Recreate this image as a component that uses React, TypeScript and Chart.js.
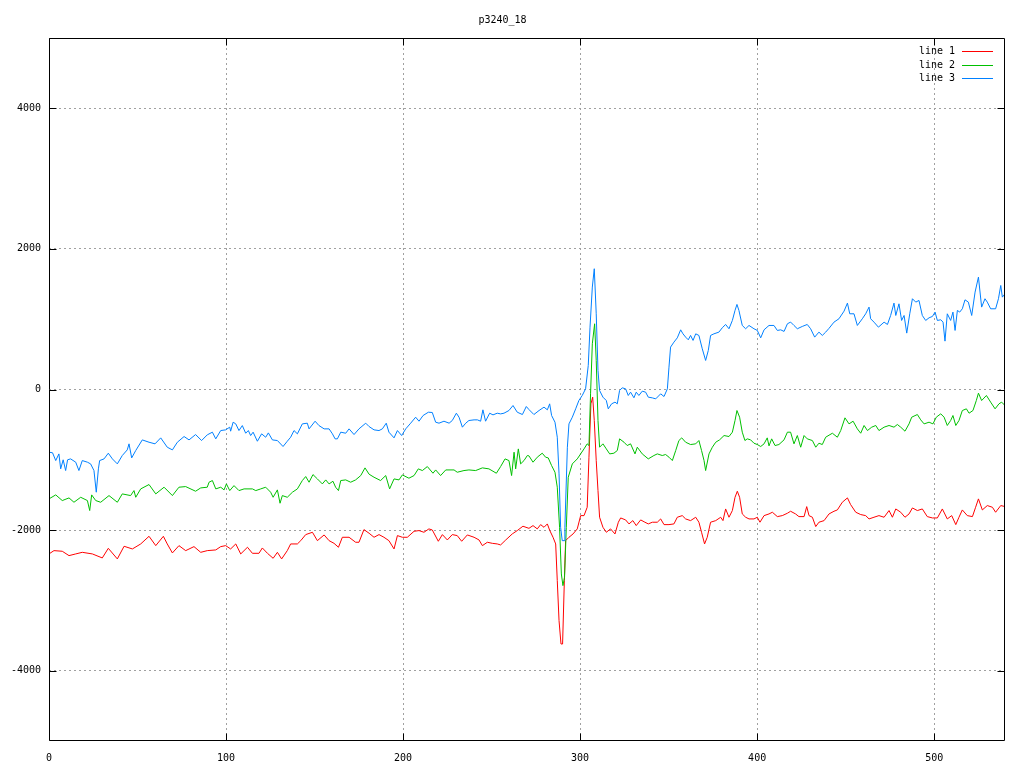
import React, { useEffect, useRef } from "react";
import { Chart, registerables } from "chart.js";

Chart.register(...registerables);

const chartTitle = "p3240_18";
const seriesLabels = ["line 1", "line 2", "line 3"];
const seriesColors = ["#ff0000", "#00c000", "#0080ff"];
const xTicks = [0, 100, 200, 300, 400, 500];
const yTicks = [-4000, -2000, 0, 2000, 4000];

// line 1 (red)
const line1X = [0, 2.8, 7.5, 11.3, 15.1, 18.8, 24.5, 30.1, 33.5, 38.6, 42.4, 47.1, 51.8, 56.5, 60.3, 64.6, 66.8, 69.7, 73.4, 77.2, 81.9, 85.7, 89.4, 94.2, 97, 99.8, 102.6, 105.5, 108.3, 112.1, 114.9, 118.6, 120.5, 123.4, 126.6, 129, 131.4, 134.6, 136.5, 140.3, 142.2, 145, 148.8, 151.6, 155.4, 158.2, 161, 163.5, 165.7, 169.5, 173.2, 175.1, 177.9, 180.8, 183.6, 186.4, 189.2, 192, 194.9, 196.8, 199.6, 202.4, 206.2, 209, 211.8, 214.6, 216.5, 219.9, 222.2, 225, 227.8, 230.6, 233.1, 236.3, 240.1, 242.9, 244.8, 247.6, 250.4, 253.2, 255.1, 258, 261.7, 264.5, 267.7, 271.1, 273.4, 275.8, 277.7, 279.6, 281.5, 282.8, 284.7, 286.2, 287.1, 288.1, 289.2, 290.1, 291.1, 291.8, 293.7, 296, 298.4, 300.3, 302.2, 304, 305, 306.1, 307.1, 308, 309.1, 310.1, 311, 312.9, 314.8, 317.2, 319.7, 321.6, 322.9, 325.7, 327.6, 329.8, 331.7, 334.2, 336.6, 338.5, 340.8, 343.6, 345.5, 347.4, 350.2, 353, 354.9, 357.7, 359.6, 362.4, 365.3, 367.1, 368.6, 370.3, 371.8, 373.7, 376.6, 379.4, 380.7, 382.2, 384.1, 386, 387.5, 388.8, 390.1, 391.6, 393.5, 395.4, 398.2, 400.1, 401.6, 403.9, 406.7, 408.6, 411.4, 414.2, 417.1, 418.9, 421.7, 423.6, 426.5, 428, 429.3, 431.2, 433.1, 434.9, 437.8, 440.6, 443.4, 445.3, 448.1, 451, 452.8, 455.7, 458.5, 461.3, 463.2, 466, 468.8, 471.7, 474.5, 476.4, 478.3, 481.1, 483.5, 485.8, 487.7, 490.5, 493.3, 496.1, 499, 501.8, 504.6, 507.4, 509.9, 512.2, 514, 515.9, 518.7, 521.6, 523.4, 525, 527.2, 530, 532.9, 534.7, 537.6, 540];
const line1Y = [-2339, -2292, -2301, -2363, -2339, -2316, -2339, -2396, -2259, -2410, -2230, -2268, -2197, -2088, -2221, -2088, -2197, -2325, -2221, -2292, -2235, -2316, -2292, -2282, -2235, -2221, -2268, -2197, -2339, -2244, -2330, -2330, -2254, -2330, -2401, -2316, -2410, -2292, -2197, -2197, -2150, -2064, -2031, -2150, -2069, -2150, -2188, -2244, -2102, -2102, -2173, -2173, -1993, -2045, -2102, -2064, -2102, -2150, -2268, -2078, -2102, -2102, -2017, -2007, -2031, -1983, -1998, -2159, -2064, -2140, -2064, -2078, -2159, -2069, -2102, -2140, -2221, -2173, -2188, -2197, -2211, -2140, -2054, -2007, -1945, -1975, -1936, -1983, -1922, -1960, -1912, -2002, -2102, -2197, -2719, -3288, -3620, -3620, -2719, -2150, -2102, -2055, -1983, -1794, -1794, -1675, -963, -204, -109, -441, -1011, -1438, -1817, -1960, -2031, -1983, -2055, -1888, -1827, -1855, -1912, -1865, -1936, -1855, -1888, -1912, -1888, -1888, -1841, -1922, -1922, -1912, -1817, -1794, -1841, -1865, -1817, -1888, -2031, -2197, -2102, -1888, -1865, -1817, -1865, -1699, -1817, -1722, -1533, -1447, -1533, -1770, -1817, -1841, -1841, -1817, -1888, -1794, -1770, -1746, -1808, -1794, -1760, -1732, -1770, -1808, -1808, -1666, -1794, -1817, -1950, -1888, -1865, -1770, -1732, -1713, -1604, -1542, -1637, -1746, -1779, -1794, -1841, -1817, -1794, -1817, -1722, -1817, -1699, -1746, -1817, -1770, -1685, -1722, -1699, -1808, -1827, -1827, -1699, -1841, -1794, -1922, -1817, -1713, -1794, -1808, -1675, -1556, -1713, -1651, -1675, -1746, -1651, -1665];

// line 2 (green)
const line2X = [0, 3.8, 7.5, 11.3, 14.1, 17.9, 21.7, 23, 24.1, 26.4, 29.2, 33.9, 38.6, 41.4, 46.1, 48, 49, 51.8, 56.5, 60.3, 65, 69.7, 73.4, 77.2, 82.8, 85.7, 89.4, 90.4, 92.3, 94.2, 97, 98.9, 100.2, 102.1, 104.5, 107.3, 110.2, 114.9, 116.8, 119.6, 122.4, 125.2, 126.6, 129, 130.5, 131.8, 134.6, 137.5, 140.3, 143.1, 145, 146.9, 149.1, 151.6, 154.4, 156.3, 158.2, 160.4, 161.9, 163.5, 164.8, 167.6, 170.4, 173.2, 176.1, 178.5, 180.8, 183.6, 187.3, 190.2, 192.4, 194.9, 197.7, 199.6, 203.3, 206.2, 208.6, 210.9, 213.7, 216.9, 218.4, 221.2, 224.1, 228.8, 230.6, 234.4, 237.2, 241, 244.8, 248.5, 252.7, 255.1, 257.6, 259.8, 261.3, 262.7, 263.6, 265.1, 266.4, 268.3, 270.2, 271.1, 273.4, 275.8, 278.6, 280.5, 282, 283.9, 285.8, 287.1, 288.4, 289.4, 290.3, 291.2, 292.2, 293.3, 295.6, 298.4, 300.3, 302.2, 304, 305, 305.9, 306.9, 308.2, 309.1, 310.1, 311, 312.9, 314.8, 316.7, 319.1, 321, 322.3, 324.8, 326.6, 328.5, 331, 332.3, 335.1, 338.5, 341.7, 343.6, 346.4, 348.3, 350.2, 352.1, 354, 355.8, 357.4, 359.6, 362.4, 365.3, 367.1, 368.6, 370, 370.9, 372.8, 374.7, 376.6, 378.8, 381.3, 384.1, 386, 387.5, 388.6, 390.1, 391.6, 393.1, 394.4, 396.3, 398.2, 400.1, 402, 403.9, 405.7, 406.7, 408.2, 410.1, 412.3, 415.2, 417.1, 418.9, 420.8, 422.7, 424.6, 426.5, 428.3, 431.2, 433.1, 434.9, 436.8, 438.7, 440.6, 442.5, 445.3, 447.2, 449.6, 451.9, 454.2, 456.6, 458.5, 460.4, 462.3, 464.7, 467, 468.8, 471.7, 474.5, 477.3, 479.2, 481.1, 483.5, 485.8, 487.3, 490.5, 492.4, 494.3, 497.1, 499.3, 501.2, 503.7, 505.6, 507.4, 509.3, 510.6, 512.2, 514, 515.9, 518.2, 519.7, 521.9, 523.8, 525, 526.8, 529.5, 531.9, 534.4, 536.6, 538.1, 540];
const line2Y = [-1556, -1499, -1580, -1542, -1604, -1533, -1580, -1722, -1499, -1580, -1604, -1509, -1604, -1485, -1509, -1438, -1533, -1414, -1352, -1485, -1390, -1509, -1390, -1381, -1447, -1400, -1390, -1319, -1295, -1414, -1390, -1428, -1343, -1438, -1367, -1438, -1414, -1414, -1438, -1414, -1390, -1461, -1533, -1428, -1618, -1509, -1533, -1461, -1414, -1295, -1238, -1319, -1210, -1272, -1343, -1286, -1343, -1305, -1390, -1438, -1295, -1286, -1319, -1286, -1224, -1115, -1205, -1248, -1295, -1224, -1414, -1272, -1286, -1215, -1262, -1224, -1129, -1153, -1096, -1191, -1144, -1224, -1144, -1144, -1177, -1153, -1144, -1153, -1115, -1129, -1191, -1096, -987, -1011, -1224, -892, -1129, -845, -1058, -1011, -939, -944, -1034, -963, -906, -963, -973, -1082, -1177, -1390, -1960, -2624, -2790, -2671, -1960, -1248, -1058, -987, -916, -845, -773, -797, -62, 650, 935, 413, -441, -821, -773, -845, -916, -906, -868, -702, -750, -797, -773, -916, -821, -916, -987, -939, -916, -939, -925, -963, -1011, -868, -726, -688, -750, -783, -773, -726, -868, -1011, -1153, -916, -821, -750, -716, -655, -669, -607, -441, -299, -394, -607, -726, -702, -716, -764, -783, -811, -773, -688, -802, -702, -797, -783, -716, -607, -607, -773, -655, -821, -655, -702, -726, -821, -764, -783, -679, -650, -622, -679, -584, -403, -489, -451, -560, -622, -512, -584, -536, -512, -584, -536, -512, -536, -498, -536, -593, -489, -394, -356, -432, -489, -465, -489, -394, -346, -394, -512, -441, -370, -512, -441, -299, -275, -337, -299, -157, -52, -157, -85, -180, -275, -204, -180, -228];

// line 3 (blue)
const line3X = [0, 2, 3.8, 5.6, 6.6, 8, 9.4, 10.5, 12.2, 15.1, 16.9, 18.8, 21.7, 23.5, 25.4, 26.7, 27.9, 28.6, 31.1, 33.5, 35.8, 38.6, 41.4, 44.2, 45.2, 46.7, 49, 52.7, 56.5, 59.9, 63.1, 66.8, 69.7, 72.5, 76.3, 79.1, 82.8, 86.2, 89.4, 92.3, 94.2, 97, 99.8, 102.1, 102.6, 104, 105.5, 107.3, 109.2, 111.1, 112.6, 113.9, 115.3, 117.7, 120.1, 122.4, 123.9, 126.2, 129, 132.2, 134.6, 136.5, 138.4, 140.3, 143.1, 145.9, 146.9, 150.3, 152.5, 155.4, 158.2, 160.1, 161.6, 162.9, 164.8, 167.6, 169.5, 172.3, 175.1, 178.9, 180.8, 183.6, 186.4, 188.3, 190.5, 192, 194.9, 196.8, 199.2, 201.5, 204.3, 207.1, 209, 211.3, 214.3, 216.5, 218.4, 220.3, 223.1, 226, 227.8, 230.1, 231.6, 233.5, 235.4, 237.2, 240.1, 242, 243.8, 245.1, 246.6, 248.9, 250.8, 253.2, 255.1, 257, 259.8, 262.1, 264.5, 267.4, 269.6, 271.1, 273.9, 276.8, 279.6, 281.5, 282.8, 283.9, 285.8, 287.1, 288.1, 289, 289.9, 290.9, 291.4, 292.8, 293.7, 295.6, 297.5, 299.3, 301.2, 303.1, 304.6, 305.6, 306.9, 308, 309.1, 310.1, 311, 312.9, 314.8, 315.9, 317.8, 319.7, 321, 322.3, 323.8, 325.7, 327.2, 328.5, 330.4, 331.7, 333.2, 335.1, 337, 338.5, 340.8, 342.7, 345.5, 347.4, 349.3, 350.2, 351.1, 353, 354.9, 356.8, 358.1, 359.6, 361.1, 362.4, 363.8, 365.3, 367.1, 369, 370.9, 372.4, 373.7, 375.6, 378.4, 380.3, 382.2, 384.1, 386, 387.5, 388.6, 389.7, 391.6, 393.5, 395.4, 398.2, 400.1, 402, 403.9, 406.7, 409.5, 411.4, 413.3, 415.2, 417.1, 418.9, 420.8, 422.7, 425.5, 428.3, 430.2, 432.5, 434.9, 436.8, 438.7, 440.6, 443.4, 446.2, 449.1, 451, 452.3, 454.7, 456.6, 459.4, 461.3, 463.2, 464.1, 466, 468.5, 471.7, 473.6, 475.4, 477.3, 478.3, 480.1, 481.6, 483, 484.5, 486.2, 487.7, 489.6, 491.4, 493.3, 495.2, 497.1, 499, 500.5, 501.8, 503.7, 505, 506.1, 507.4, 509.3, 510.6, 511.8, 513.1, 514.4, 515.9, 517.4, 519.3, 521.2, 523.1, 525, 526.8, 528.7, 530, 531.9, 534.7, 536.3, 537.6, 538.5, 540];
const line3Y = [-892, -900, -1011, -916, -1129, -1000, -1153, -1000, -987, -1034, -1153, -1011, -1034, -1058, -1153, -1461, -1129, -1011, -987, -906, -987, -1058, -939, -859, -773, -973, -868, -717, -750, -773, -688, -821, -859, -750, -669, -717, -641, -726, -645, -607, -702, -584, -574, -536, -593, -465, -489, -584, -513, -622, -584, -655, -607, -736, -631, -679, -617, -717, -726, -811, -736, -679, -584, -631, -489, -479, -560, -451, -513, -560, -560, -631, -702, -702, -607, -622, -560, -641, -560, -479, -527, -574, -584, -560, -479, -607, -688, -584, -655, -560, -479, -394, -451, -370, -323, -327, -465, -479, -451, -479, -441, -337, -394, -536, -479, -441, -432, -432, -451, -289, -451, -337, -361, -337, -347, -337, -299, -228, -323, -356, -242, -285, -356, -299, -251, -289, -204, -370, -465, -679, -1200, -1960, -2150, -2150, -1960, -821, -489, -394, -275, -157, -85, 10, 342, 887, 1457, 1718, 1077, 270, -14, -109, -157, -275, -204, -180, -204, -14, 24, 10, -85, -38, -118, -38, -85, -24, -38, -109, -119, -133, -62, -100, 10, 318, 603, 674, 735, 849, 792, 745, 707, 769, 698, 792, 769, 579, 413, 555, 769, 792, 816, 878, 925, 864, 982, 1125, 1210, 1125, 911, 864, 911, 864, 840, 735, 849, 911, 911, 840, 849, 826, 935, 959, 911, 864, 897, 925, 864, 745, 816, 769, 816, 870, 958, 1006, 1115, 1229, 1077, 1077, 911, 1006, 1077, 1172, 1006, 958, 887, 958, 925, 1053, 1229, 1053, 1219, 982, 1053, 802, 1077, 1291, 1243, 1267, 1053, 982, 1020, 1039, 1101, 982, 992, 958, 688, 1077, 982, 1101, 840, 1125, 1101, 1148, 1276, 1243, 1053, 1386, 1599, 1172, 1291, 1243, 1148, 1148, 1291, 1480, 1314, 1362];

const FONT = "'DejaVu Sans Mono', 'Liberation Mono', monospace";

const gnuplotFrame = {
  id: "gnuplotFrame",
  afterDatasetsDraw(chart: any) {
    const { ctx, chartArea: a, scales } = chart;
    const L = Math.round(a.left) + 0.5;
    const R = Math.round(a.right) - 0.5;
    const T = Math.round(a.top) + 0.5;
    const B = Math.round(a.bottom) - 0.5;
    const tl = 7;
    ctx.save();
    ctx.strokeStyle = "#000";
    ctx.lineWidth = 1;
    ctx.setLineDash([]);
    ctx.beginPath();
    ctx.rect(L, T, R - L, B - T);
    for (const v of yTicks) {
      const py = Math.round(scales.y.getPixelForValue(v)) + 0.5;
      ctx.moveTo(L, py);
      ctx.lineTo(L + tl, py);
      ctx.moveTo(R, py);
      ctx.lineTo(R - tl, py);
    }
    for (const v of xTicks) {
      const px = Math.round(scales.x.getPixelForValue(v)) + 0.5;
      ctx.moveTo(px, B);
      ctx.lineTo(px, B - tl);
      ctx.moveTo(px, T);
      ctx.lineTo(px, T + tl);
    }
    ctx.stroke();
    ctx.beginPath();

    // key (legend) inside top-right
    ctx.font = `10px ${FONT}`;
    ctx.textAlign = "right";
    ctx.textBaseline = "middle";
    for (let i = 0; i < seriesLabels.length; i++) {
      const y = Math.round(a.top + 13 + i * 13.5);
      ctx.fillStyle = "#000000";
      ctx.fillText(seriesLabels[i], Math.round(a.right) - 50, y + 0.5);
      ctx.fillStyle = seriesColors[i];
      ctx.fillRect(Math.round(a.right) - 43, y, 31, 1);
    }
    ctx.restore();
  },
};

export default function App() {
  const ref = useRef<HTMLCanvasElement | null>(null);

  useEffect(() => {
    if (!ref.current) return;
    const mk = (xs: number[], ys: number[]) => xs.map((x, i) => ({ x, y: ys[i] }));
    const seriesData = [mk(line1X, line1Y), mk(line2X, line2Y), mk(line3X, line3Y)];
    const chart = new Chart(ref.current, {
      type: "line",
      data: {
        datasets: seriesData.map((d, i) => ({
          label: seriesLabels[i],
          data: d,
          borderColor: seriesColors[i],
          backgroundColor: seriesColors[i],
          borderWidth: 1,
          pointRadius: 0,
          tension: 0,
          fill: false,
          order: 3 - i,
        })),
      },
      options: {
        animation: false,
        responsive: false,
        devicePixelRatio: 1,
        layout: { padding: { left: 0, right: 19, top: 0, bottom: 0 } },
        plugins: {
          legend: { display: false },
          tooltip: { enabled: false },
          title: {
            display: true,
            text: chartTitle,
            color: "#000",
            font: { family: FONT, size: 10, weight: "normal" },
            padding: { top: 14, bottom: 12 },
          },
        },
        scales: {
          x: {
            type: "linear",
            min: 0,
            max: 540,
            afterBuildTicks: (s: any) => {
              s.ticks = xTicks.map((v) => ({ value: v }));
            },
            afterFit: (s: any) => {
              s.height = 27;
            },
            ticks: {
              autoSkip: false,
              maxRotation: 0,
              padding: 11,
              color: "#000",
              font: { family: FONT, size: 10 },
              callback: (v: any) => String(v),
            },
            grid: { color: "#a0a0a0", lineWidth: 1, drawTicks: false },
            border: { display: false, dash: [2, 3] },
          },
          y: {
            type: "linear",
            min: -5000,
            max: 5000,
            afterBuildTicks: (s: any) => {
              s.ticks = yTicks.map((v) => ({ value: v }));
            },
            afterFit: (s: any) => {
              s.width = 49;
            },
            ticks: {
              autoSkip: false,
              padding: 8,
              color: "#000",
              font: { family: FONT, size: 10 },
              callback: (v: any) => String(v),
            },
            grid: { color: "#a0a0a0", lineWidth: 1, drawTicks: false },
            border: { display: false, dash: [2, 3] },
          },
        },
      },
      plugins: [gnuplotFrame],
    });
    return () => chart.destroy();
  }, []);

  return (
    <div style={{ position: "absolute", left: 0, top: 0, width: 1024, height: 768, background: "#fff" }}>
      <canvas ref={ref} width={1024} height={768} style={{ display: "block" }} />
    </div>
  );
}
